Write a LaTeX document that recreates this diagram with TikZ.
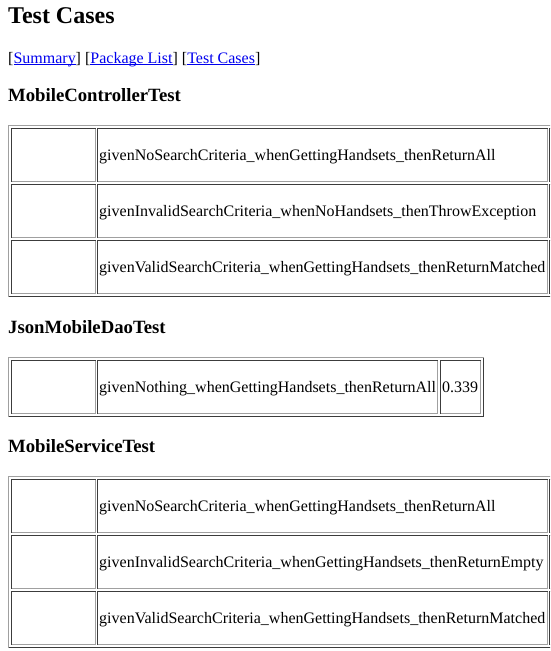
\documentclass[tikz,border=0pt]{standalone}
\usepackage{fontspec}
\setmainfont{Liberation Serif}
\definecolor{linkblue}{HTML}{0000EE}
\definecolor{edgelight}{HTML}{A0A0A0}
\definecolor{edgedark}{HTML}{3C3C3C}
\newlength\linkwd
\newcommand{\weblink}[1]{\settowidth{\linkwd}{#1}\textcolor{linkblue}{\rlap{\rule[-2pt]{\linkwd}{1pt}}#1}}
% boxes by pixel: left, top, right, bottom
\newcommand{\insetbox}[4]{%
	\fill[edgedark] (#1,#2) rectangle (#3+1,#2+1);
	\fill[edgedark] (#1,#2) rectangle (#1+1,#4+1);
	\fill[edgelight] (#1+1,#4) rectangle (#3+1,#4+1);
	\fill[edgelight] (#3,#2+1) rectangle (#3+1,#4+1);}
\newcommand{\outsetbox}[4]{%
	\fill[edgelight] (#1,#2) rectangle (#3+1,#2+1);
	\fill[edgelight] (#1,#2) rectangle (#1+1,#4+1);
	\fill[edgedark] (#1+1,#4) rectangle (#3+1,#4+1);
	\fill[edgedark] (#3,#2+1) rectangle (#3+1,#4+1);}
\tikzset{
	pagetitle/.style={anchor=base west,inner sep=0pt,font=\fontsize{24}{28}\selectfont\bfseries},
	suitehead/.style={anchor=base west,inner sep=0pt,font=\fontsize{18.72}{22}\selectfont\bfseries},
	celltext/.style={anchor=base west,inner sep=0pt,font=\fontsize{16}{18}\selectfont}
}

\begin{document}
\begin{tikzpicture}[x=1pt,y=-1pt]
		\useasboundingbox (0,0) rectangle (550,651);
		\clip (0,0) rectangle (550,651);
		\fill[white] (0,0) rectangle (550,651);
		\node[pagetitle] (title) at (8,23) {Test Cases};
		\node[celltext] (links) at (8,63) {[\weblink{Summary}] [\weblink{Package List}] [\weblink{Test Cases}]};
		% MobileControllerTest
		\node[suitehead] (mctHead) at (8,101) {MobileControllerTest};
		\outsetbox{8}{125}{600}{296}
		\foreach \top/\nm/\txt in {128/mctA/givenNoSearchCriteria\_whenGettingHandsets\_thenReturnAll,
				184/mctB/givenInvalidSearchCriteria\_whenNoHandsets\_thenThrowException,
				240/mctC/givenValidSearchCriteria\_whenGettingHandsets\_thenReturnMatched}{
			\insetbox{11}{\top}{95}{\top+53}
			\insetbox{97}{\top}{547}{\top+53}
			\insetbox{549}{\top}{620}{\top+53}
			\node[celltext] (\nm) at (99,\top+32) {\txt};
		}
		% JsonMobileDaoTest
		\node[suitehead] (jmdHead) at (8,333) {JsonMobileDaoTest};
		\outsetbox{8}{357}{483}{416}
		\insetbox{11}{360}{95}{413}
		\insetbox{97}{360}{437}{413}
		\insetbox{440}{360}{480}{413}
		\node[celltext] (jmdA) at (99,392) {givenNothing\_whenGettingHandsets\_thenReturnAll};
		\node[celltext] (jmdTime) at (442,392) {0.339};
		% MobileServiceTest
		\node[suitehead] (mstHead) at (8,452) {MobileServiceTest};
		\outsetbox{8}{476}{600}{647}
		\foreach \top/\nm/\txt in {479/mstA/givenNoSearchCriteria\_whenGettingHandsets\_thenReturnAll,
				535/mstB/givenInvalidSearchCriteria\_whenGettingHandsets\_thenReturnEmpty,
				591/mstC/givenValidSearchCriteria\_whenGettingHandsets\_thenReturnMatched}{
			\insetbox{11}{\top}{95}{\top+53}
			\insetbox{97}{\top}{547}{\top+53}
			\insetbox{549}{\top}{620}{\top+53}
			\node[celltext] (\nm) at (99,\top+32) {\txt};
		}
	\end{tikzpicture}
\end{document}
